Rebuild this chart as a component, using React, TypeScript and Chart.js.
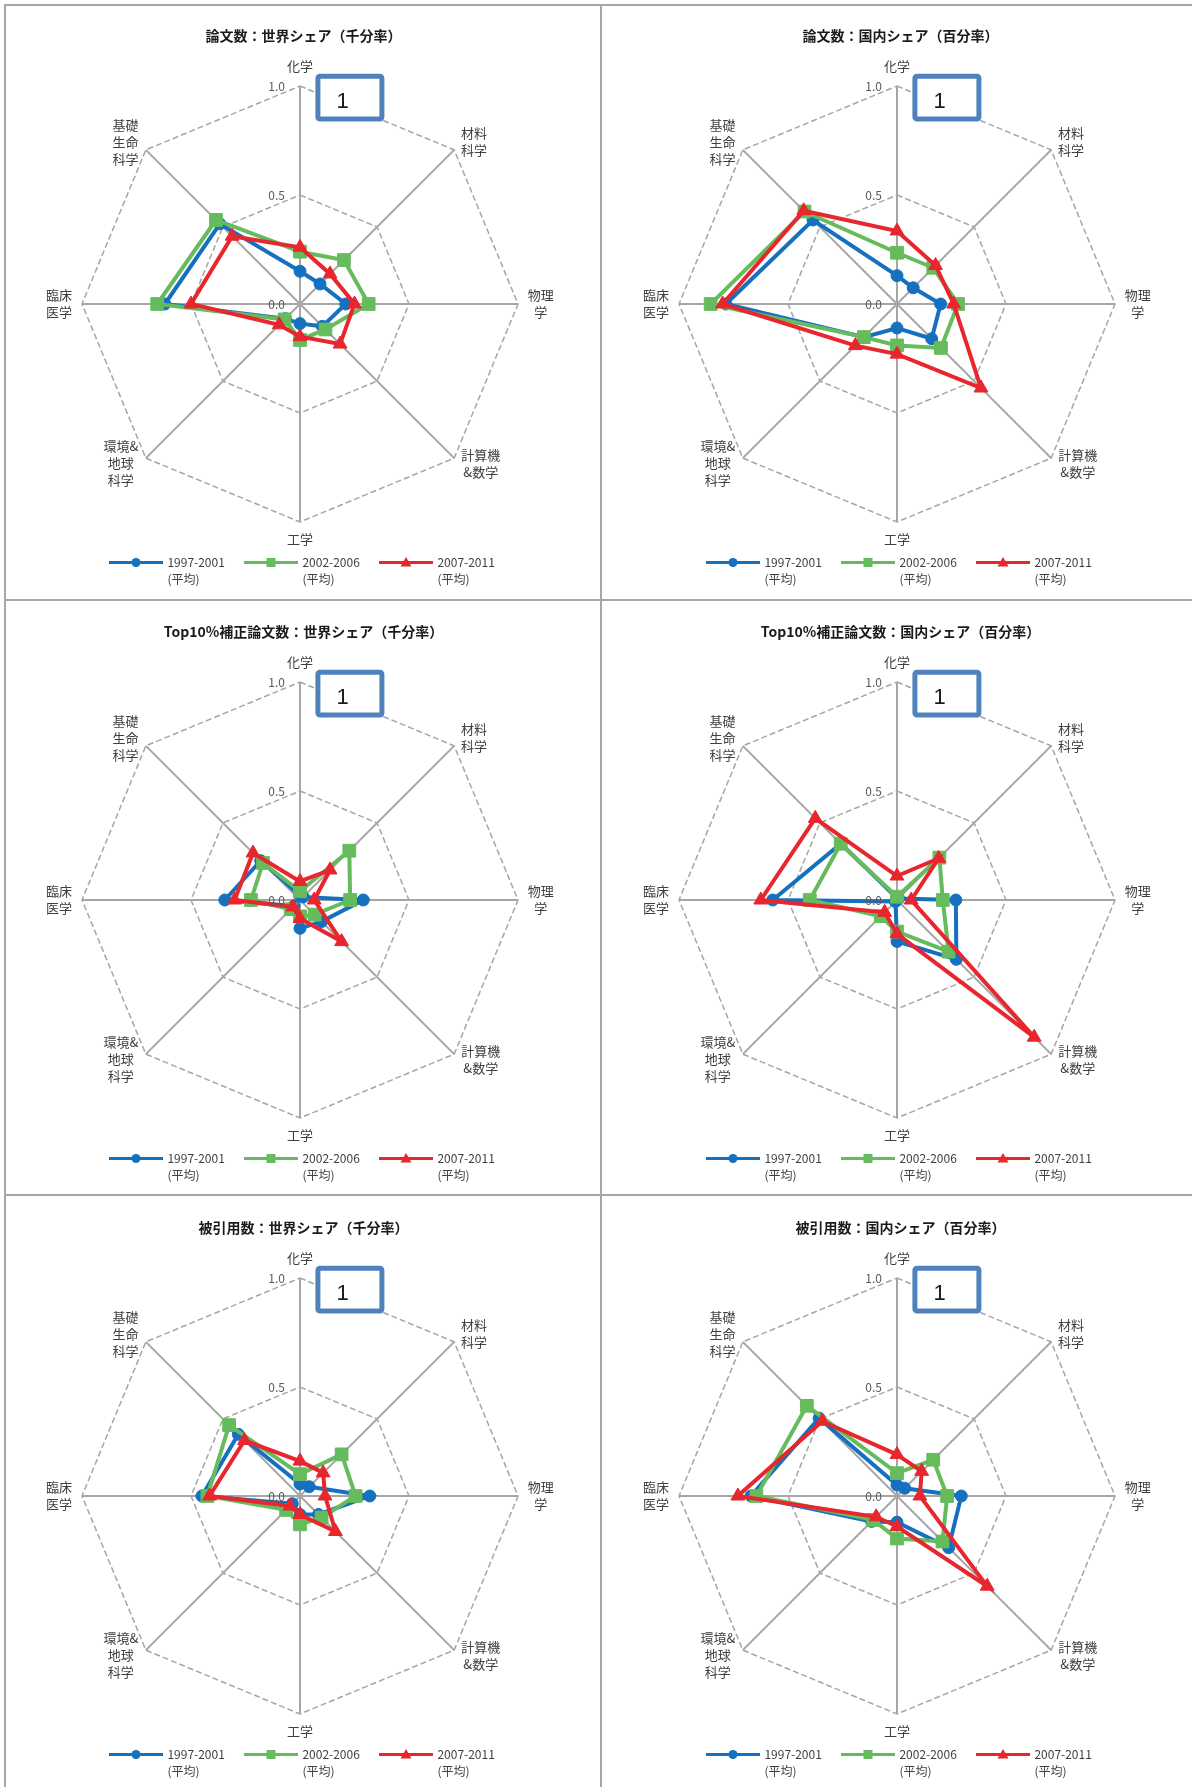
import React, { useEffect, useRef } from 'react';
import { Chart, registerables } from 'chart.js';

Chart.register(...registerables);

// ---------- data ----------
const categories: string[][] = [
  ['化学'],
  ['材料', '科学'],
  ['物理', '学'],
  ['計算機', '&数学'],
  ['工学'],
  ['環境&', '地球', '科学'],
  ['臨床', '医学'],
  ['基礎', '生命', '科学'],
];
const periods = ['1997-2001', '2002-2006', '2007-2011'];
const periodNote = '(平均)';
const tickValues = [0, 0.5, 1.0];
const boxLabel = '1';

const titles = [
  '論文数：世界シェア（千分率）',
  '論文数：国内シェア（百分率）',
  'Top10%補正論文数：世界シェア（千分率）',
  'Top10%補正論文数：国内シェア（百分率）',
  '被引用数：世界シェア（千分率）',
  '被引用数：国内シェア（百分率）',
];

const papersWorld1997 = [0.15, 0.13, 0.21, 0.145, 0.09, 0.095, 0.62, 0.52];
const papersWorld2002 = [0.24, 0.285, 0.315, 0.165, 0.165, 0.1, 0.655, 0.545];
const papersWorld2007 = [0.26, 0.195, 0.25, 0.26, 0.15, 0.135, 0.5, 0.44];

const papersDomestic1997 = [0.13, 0.105, 0.2, 0.225, 0.11, 0.215, 0.785, 0.545];
const papersDomestic2002 = [0.235, 0.235, 0.28, 0.285, 0.19, 0.215, 0.855, 0.6];
const papersDomestic2007 = [0.335, 0.25, 0.26, 0.545, 0.23, 0.27, 0.8, 0.605];

const top10World1997 = [0.02, 0.02, 0.29, 0.14, 0.13, 0.04, 0.345, 0.255];
const top10World2002 = [0.04, 0.32, 0.23, 0.095, 0.075, 0.06, 0.225, 0.24];
const top10World2007 = [0.085, 0.195, 0.065, 0.27, 0.085, 0.045, 0.3, 0.305];

const top10Domestic1997 = [0.01, 0.01, 0.27, 0.385, 0.19, 0.01, 0.57, 0.365];
const top10Domestic2002 = [0.015, 0.275, 0.21, 0.335, 0.145, 0.105, 0.4, 0.365];
const top10Domestic2007 = [0.11, 0.27, 0.065, 0.89, 0.155, 0.08, 0.625, 0.53];

const citesWorld1997 = [0.055, 0.06, 0.32, 0.12, 0.085, 0.05, 0.45, 0.4];
const citesWorld2002 = [0.1, 0.27, 0.255, 0.14, 0.13, 0.09, 0.425, 0.46];
const citesWorld2007 = [0.16, 0.15, 0.115, 0.23, 0.085, 0.065, 0.415, 0.36];

const citesDomestic1997 = [0.05, 0.05, 0.295, 0.335, 0.12, 0.165, 0.67, 0.505];
const citesDomestic2002 = [0.105, 0.235, 0.23, 0.295, 0.195, 0.155, 0.645, 0.585];
const citesDomestic2007 = [0.19, 0.16, 0.105, 0.585, 0.14, 0.135, 0.73, 0.485];

const panelSeries = [
  [papersWorld1997, papersWorld2002, papersWorld2007],
  [papersDomestic1997, papersDomestic2002, papersDomestic2007],
  [top10World1997, top10World2002, top10World2007],
  [top10Domestic1997, top10Domestic2002, top10Domestic2007],
  [citesWorld1997, citesWorld2002, citesWorld2007],
  [citesDomestic1997, citesDomestic2002, citesDomestic2007],
];

// ---------- styles ----------
const FONT = '"Noto Sans CJK JP", "Noto Sans", sans-serif';
const SERIES_COLORS = ['#1670C0', '#66BB5C', '#E8262D'];
const POINT_STYLES = ['circle', 'rect', 'triangle'];
const POINT_RADII = [6, 9, 8];
const GRID_COLOR = '#a6a6a6';
const RADIUS = 218;
const PAD_LEFT = 78;
const PAD_TOP = 82;

// block-centre offsets of each category label from its outer vertex
const LABEL_OFFSETS = [
  [0, -20.4], [19.8, -7.9], [22.8, -0.9], [26.6, 5.7],
  [0, 17.4], [-25, 5.1], [-23.1, -0.9], [-20.4, -8],
];

function drawMarker(ctx: CanvasRenderingContext2D, style: string, x: number, y: number, color: string) {
  ctx.fillStyle = color;
  ctx.beginPath();
  if (style === 'circle') {
    ctx.arc(x, y, 4.5, 0, Math.PI * 2);
  } else if (style === 'rect') {
    ctx.rect(x - 4.5, y - 4.5, 9, 9);
  } else {
    ctx.moveTo(x, y - 5.5);
    ctx.lineTo(x + 5.5, y + 4);
    ctx.lineTo(x - 5.5, y + 4);
    ctx.closePath();
  }
  ctx.fill();
}

const overlayPlugin = {
  id: 'overlay',
  afterDraw(chart: any, _args: any, opts: any) {
    const ctx: CanvasRenderingContext2D = chart.ctx;
    const s = chart.scales.r;
    const cx = s.xCenter;
    const cy = s.yCenter;
    ctx.save();

    // tick labels (left of the top axis)
    ctx.font = `12px ${FONT}`;
    ctx.fillStyle = '#595959';
    ctx.textAlign = 'right';
    ctx.textBaseline = 'middle';
    s.ticks.forEach((t: any) => {
      const d = s.getDistanceFromCenterForValue(t.value);
      ctx.fillText(Number(t.value).toFixed(1), cx - 15, cy - d);
    });

    // category labels
    ctx.font = `13px ${FONT}`;
    ctx.fillStyle = '#404040';
    ctx.textAlign = 'center';
    (chart.data.labels as string[][]).forEach((lines, i) => {
      const p = s.getPointPosition(i, s.getDistanceFromCenterForValue(s.max));
      const [ox, oy] = LABEL_OFFSETS[i];
      const n = lines.length;
      lines.forEach((ln, j) => {
        ctx.fillText(ln, p.x + ox, p.y + oy + (j - (n - 1) / 2) * 17);
      });
    });

    // title
    ctx.font = `bold 14px ${FONT}`;
    ctx.fillStyle = '#1a1a1a';
    ctx.fillText(opts.title, cx + 3.5, cy - 268);

    // annotation box
    ctx.fillStyle = '#ffffff';
    ctx.strokeStyle = '#4F81BD';
    ctx.lineWidth = 5;
    ctx.beginPath();
    const bx = cx + 17.9, by = cy - 227.7, bw = 64, bh = 42.7;
    if ((ctx as any).roundRect) (ctx as any).roundRect(bx, by, bw, bh, 2);
    else ctx.rect(bx, by, bw, bh);
    ctx.fill();
    ctx.stroke();
    ctx.fillStyle = '#1a1a1a';
    ctx.font = '22px "Liberation Sans", Arial, sans-serif';
    ctx.textAlign = 'center';
    ctx.fillText(boxLabel, cx + 42.5, cy - 202.5);

    // legend
    chart.data.datasets.forEach((ds: any, k: number) => {
      const x0 = cx - 191 + 135 * k;
      const x1 = cx - 137 + 135 * k;
      const ly = cy + 258.5;
      ctx.strokeStyle = ds.borderColor;
      ctx.lineWidth = 3;
      ctx.beginPath();
      ctx.moveTo(x0, ly);
      ctx.lineTo(x1, ly);
      ctx.stroke();
      drawMarker(ctx, ds.pointStyle, (x0 + x1) / 2, ly, ds.borderColor);
      ctx.fillStyle = '#404040';
      ctx.font = `12px ${FONT}`;
      ctx.textAlign = 'left';
      ctx.fillText(ds.label, cx - 132.6 + 135 * k, ly);
      ctx.fillText(periodNote, cx - 132.6 + 135 * k, ly + 16.6);
    });

    ctx.restore();
  },
};

type PanelProps = { title: string; series: number[][]; left: number; top: number; width: number; height: number };

function RadarPanel({ title, series, left, top, width, height }: PanelProps) {
  const ref = useRef<HTMLCanvasElement>(null);
  useEffect(() => {
    if (!ref.current) return;
    const chart = new Chart(ref.current, {
      type: 'radar',
      data: {
        labels: categories as any,
        datasets: series.map((vals, k) => ({
          label: periods[k],
          data: vals,
          borderColor: SERIES_COLORS[k],
          backgroundColor: SERIES_COLORS[k],
          pointBackgroundColor: SERIES_COLORS[k],
          pointBorderColor: SERIES_COLORS[k],
          pointStyle: POINT_STYLES[k] as any,
          pointRadius: POINT_RADII[k],
          pointBorderWidth: 1,
          borderWidth: 4,
          fill: false,
          tension: 0,
          order: 3 - k,
        })),
      },
      options: {
        responsive: false,
        animation: false,
        devicePixelRatio: 1,
        layout: {
          padding: {
            left: PAD_LEFT,
            top: PAD_TOP,
            right: width - PAD_LEFT - 2 * RADIUS,
            bottom: height - PAD_TOP - 2 * RADIUS,
          },
        },
        plugins: {
          legend: { display: false },
          title: { display: false },
          tooltip: { enabled: false },
          overlay: { title },
        } as any,
        scales: {
          r: {
            min: 0,
            max: 1,
            afterBuildTicks: (scale: any) => {
              scale.ticks = tickValues.map((v) => ({ value: v }));
            },
            ticks: { display: false, stepSize: 0.5 },
            pointLabels: { display: false },
            grid: { circular: false, color: GRID_COLOR, lineWidth: 1.5 },
            border: { dash: [6, 3] },
            angleLines: { display: true, color: GRID_COLOR, lineWidth: 2 },
          } as any,
        },
      },
      plugins: [overlayPlugin as any],
    });
    return () => chart.destroy();
  }, [title, series, width, height]);
  return (
    <canvas
      ref={ref}
      width={width}
      height={height}
      style={{ position: 'absolute', left, top, width, height }}
    />
  );
}

const colLefts = [4, 601];
const colWidths = [597, 591];
const rowTops = [4, 600, 1196];
const rowHeights = [596, 596, 591];

export default function App() {
  const line = (l: number, t: number, w: number, h: number, key: string) => (
    <div key={key} style={{ position: 'absolute', left: l, top: t, width: w, height: h, background: GRID_COLOR, zIndex: 2 }} />
  );
  return (
    <div
      style={{
        position: 'absolute',
        left: 0,
        top: 0,
        width: 1192,
        height: 1787,
        overflow: 'hidden',
        background: '#ffffff',
      }}
    >
      {titles.map((t, i) => {
        const col = i % 2;
        const row = Math.floor(i / 2);
        return (
          <RadarPanel
            key={i}
            title={t}
            series={panelSeries[i]}
            left={colLefts[col]}
            top={rowTops[row]}
            width={colWidths[col]}
            height={rowHeights[row]}
          />
        );
      })}
      {line(4, 4, 1188, 2, 'top')}
      {line(4, 4, 2, 1783, 'left')}
      {line(600, 4, 2, 1783, 'mid')}
      {line(4, 599, 1188, 2, 'h1')}
      {line(4, 1194, 1188, 2, 'h2')}
    </div>
  );
}
